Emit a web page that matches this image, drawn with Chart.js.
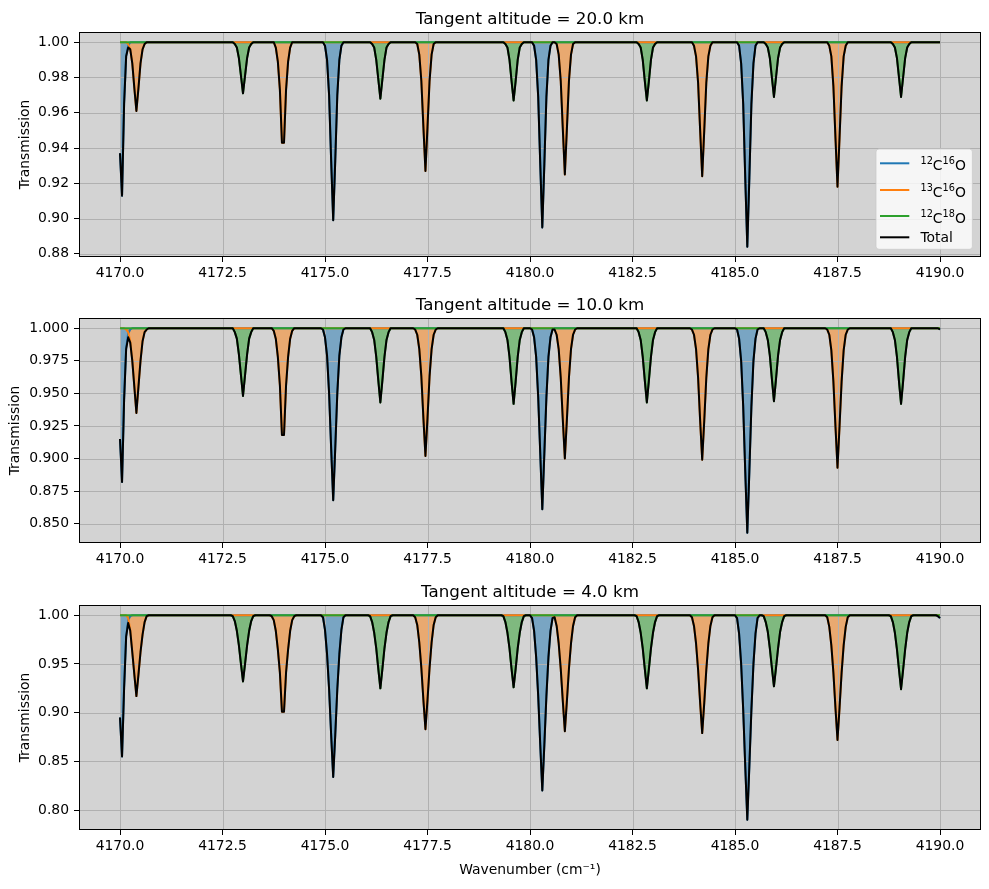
<!DOCTYPE html>
<html>
<head>
<meta charset="utf-8">
<script src="https://cdn.jsdelivr.net/npm/chart.js@4.4.0/dist/chart.umd.min.js"></script>
<style>
  html, body { margin: 0; padding: 0; background: #ffffff; }
  #fig { position: relative; width: 989px; height: 889px; }
  #fig canvas { position: absolute; left: 0; }
</style>
</head>
<body>
<div id="fig">
  <canvas id="panel-20km" width="989" height="287" style="top:0px"></canvas>
  <canvas id="panel-10km" width="989" height="287" style="top:287px"></canvas>
  <canvas id="panel-4km" width="989" height="315" style="top:574px"></canvas>
</div>
<script>
// spectra are sampled every 0.05 cm-1; each record is [first wavenumber, transmissions]
var WN_STEP = 0.05;
var WN_START = 4170.0;
var WN_END = 4190.0;

var ALTITUDES = [20.0, 10.0, 4.0];
var LEGEND_LABELS = ['^{12}C^{16}O', '^{13}C^{16}O', '^{12}C^{18}O', 'Total'];

var X_TICKS = [4170.0, 4172.5, 4175.0, 4177.5, 4180.0, 4182.5, 4185.0, 4187.5, 4190.0];
var X_LABELS = ['4170.0', '4172.5', '4175.0', '4177.5', '4180.0', '4182.5', '4185.0', '4187.5', '4190.0'];

var Y_TICKS_20KM = [0.88, 0.90, 0.92, 0.94, 0.96, 0.98, 1.00];
var Y_LABELS_20KM = ['0.88', '0.90', '0.92', '0.94', '0.96', '0.98', '1.00'];
var Y_TICKS_10KM = [0.850, 0.875, 0.900, 0.925, 0.950, 0.975, 1.000];
var Y_LABELS_10KM = ['0.850', '0.875', '0.900', '0.925', '0.950', '0.975', '1.000'];
var Y_TICKS_4KM = [0.80, 0.85, 0.90, 0.95, 1.00];
var Y_LABELS_4KM = ['0.80', '0.85', '0.90', '0.95', '1.00'];

// ---- 20 km ----
var c12o16_20km = [
  [4170.00, [0.937, 0.913, 0.965, 0.992, 0.998, 1.000]],
  [4174.95, [1.000, 0.998, 0.990, 0.970, 0.933, 0.899, 0.933, 0.970, 0.990, 0.998, 1.000]],
  [4180.05, [1.000, 0.998, 0.990, 0.969, 0.931, 0.895, 0.931, 0.969, 0.990, 0.998, 1.000]],
  [4185.05, [1.000, 0.998, 0.988, 0.965, 0.923, 0.884, 0.923, 0.965, 0.988, 0.998, 1.000]]
];
var c13o16_20km = [
  [4170.15, [1.000, 0.999, 0.996, 0.988, 0.974, 0.961, 0.974, 0.988, 0.996, 0.999, 1.000]],
  [4173.70, [1.000, 1.000, 0.997, 0.989, 0.973, 0.943, 0.943, 0.973, 0.989, 0.997, 1.000, 1.000]],
  [4177.20, [1.000, 0.999, 0.993, 0.978, 0.952, 0.927, 0.952, 0.978, 0.993, 0.999, 1.000]],
  [4180.60, [1.000, 0.999, 0.993, 0.978, 0.951, 0.925, 0.951, 0.978, 0.993, 0.999, 1.000]],
  [4183.95, [1.000, 0.998, 0.992, 0.977, 0.950, 0.924, 0.950, 0.977, 0.992, 0.998, 1.000]],
  [4187.25, [1.000, 0.998, 0.992, 0.975, 0.946, 0.918, 0.946, 0.975, 0.992, 0.998, 1.000]]
];
var c12o18_20km = [
  [4172.75, [1.000, 0.999, 0.997, 0.991, 0.981, 0.971, 0.981, 0.991, 0.997, 0.999, 1.000]],
  [4176.10, [1.000, 0.999, 0.997, 0.990, 0.979, 0.968, 0.979, 0.990, 0.997, 0.999, 1.000]],
  [4179.35, [1.000, 0.999, 0.997, 0.990, 0.978, 0.967, 0.978, 0.990, 0.997, 0.999, 1.000]],
  [4182.60, [1.000, 0.999, 0.997, 0.990, 0.978, 0.967, 0.978, 0.990, 0.997, 0.999, 1.000]],
  [4185.70, [1.000, 0.999, 0.997, 0.991, 0.980, 0.969, 0.980, 0.991, 0.997, 0.999, 1.000]],
  [4188.80, [1.000, 0.999, 0.997, 0.991, 0.980, 0.969, 0.980, 0.991, 0.997, 0.999, 1.000]]
];

// ---- 10 km ----
var c12o16_10km = [
  [4170.00, [0.915, 0.882, 0.945, 0.985, 0.996, 0.999, 1.000]],
  [4174.90, [1.000, 0.999, 0.993, 0.979, 0.950, 0.908, 0.868, 0.908, 0.950, 0.979, 0.993, 0.999, 1.000]],
  [4180.00, [1.000, 0.999, 0.993, 0.978, 0.947, 0.904, 0.861, 0.904, 0.947, 0.978, 0.993, 0.999, 1.000]],
  [4185.00, [1.000, 0.999, 0.992, 0.975, 0.940, 0.890, 0.843, 0.890, 0.940, 0.975, 0.992, 0.999, 1.000]],
  [4189.90, [1.000, 1.000, 0.999]]
];
var c13o16_10km = [
  [4170.10, [1.000, 0.999, 0.997, 0.990, 0.975, 0.955, 0.935, 0.955, 0.975, 0.990, 0.997, 0.999, 1.000]],
  [4173.65, [1.000, 1.000, 0.998, 0.992, 0.978, 0.956, 0.918, 0.918, 0.956, 0.978, 0.992, 0.998, 1.000, 1.000]],
  [4177.15, [1.000, 0.999, 0.995, 0.984, 0.963, 0.931, 0.902, 0.931, 0.963, 0.984, 0.995, 0.999, 1.000]],
  [4180.55, [1.000, 0.999, 0.995, 0.984, 0.962, 0.930, 0.900, 0.930, 0.962, 0.984, 0.995, 0.999, 1.000]],
  [4183.90, [1.000, 0.999, 0.995, 0.984, 0.962, 0.929, 0.899, 0.929, 0.962, 0.984, 0.995, 0.999, 1.000]],
  [4187.20, [1.000, 0.999, 0.995, 0.983, 0.959, 0.925, 0.893, 0.925, 0.959, 0.983, 0.995, 0.999, 1.000]]
];
var c12o18_10km = [
  [4172.70, [1.000, 1.000, 0.997, 0.992, 0.980, 0.964, 0.948, 0.964, 0.980, 0.992, 0.997, 1.000, 1.000]],
  [4176.05, [1.000, 1.000, 0.997, 0.991, 0.978, 0.960, 0.943, 0.960, 0.978, 0.991, 0.997, 1.000, 1.000]],
  [4179.30, [1.000, 1.000, 0.997, 0.991, 0.978, 0.959, 0.942, 0.959, 0.978, 0.991, 0.997, 1.000, 1.000]],
  [4182.55, [1.000, 1.000, 0.997, 0.991, 0.978, 0.960, 0.943, 0.960, 0.978, 0.991, 0.997, 1.000, 1.000]],
  [4185.65, [1.000, 1.000, 0.997, 0.991, 0.979, 0.961, 0.944, 0.961, 0.979, 0.991, 0.997, 1.000, 1.000]],
  [4188.75, [1.000, 1.000, 0.997, 0.991, 0.978, 0.959, 0.942, 0.959, 0.978, 0.991, 0.997, 1.000, 1.000]]
];

// ---- 4 km ----
var c12o16_4km = [
  [4170.00, [0.895, 0.855, 0.925, 0.978, 0.995, 0.999, 1.000]],
  [4174.90, [1.000, 0.998, 0.985, 0.960, 0.924, 0.877, 0.834, 0.877, 0.924, 0.960, 0.985, 0.998, 1.000]],
  [4180.00, [1.000, 0.997, 0.984, 0.957, 0.917, 0.867, 0.820, 0.867, 0.917, 0.957, 0.984, 0.997, 1.000]],
  [4185.00, [1.000, 0.997, 0.981, 0.950, 0.903, 0.845, 0.790, 0.845, 0.903, 0.950, 0.981, 0.997, 1.000]],
  [4189.85, [1.000, 1.000, 0.999, 0.997]]
];
var c13o16_4km = [
  [4170.10, [1.000, 1.000, 0.997, 0.985, 0.962, 0.939, 0.917, 0.939, 0.962, 0.980, 0.993, 0.999, 1.000]],
  [4173.65, [1.000, 0.999, 0.995, 0.984, 0.965, 0.941, 0.901, 0.901, 0.941, 0.965, 0.984, 0.995, 0.999, 1.000]],
  [4177.15, [1.000, 0.998, 0.990, 0.972, 0.946, 0.913, 0.883, 0.913, 0.946, 0.972, 0.990, 0.998, 1.000]],
  [4180.55, [1.000, 0.998, 0.989, 0.971, 0.945, 0.912, 0.881, 0.912, 0.945, 0.971, 0.989, 0.998, 1.000]],
  [4183.90, [1.000, 0.998, 0.989, 0.971, 0.944, 0.910, 0.879, 0.910, 0.944, 0.971, 0.989, 0.998, 1.000]],
  [4187.20, [1.000, 0.998, 0.988, 0.969, 0.941, 0.905, 0.872, 0.905, 0.941, 0.969, 0.988, 0.998, 1.000]]
];
var c12o18_4km = [
  [4172.70, [1.000, 0.999, 0.994, 0.984, 0.969, 0.950, 0.932, 0.950, 0.969, 0.984, 0.994, 0.999, 1.000]],
  [4176.05, [1.000, 0.999, 0.993, 0.982, 0.966, 0.945, 0.925, 0.945, 0.966, 0.982, 0.993, 0.999, 1.000]],
  [4179.30, [1.000, 0.999, 0.993, 0.982, 0.966, 0.945, 0.926, 0.945, 0.966, 0.982, 0.993, 0.999, 1.000]],
  [4182.55, [1.000, 0.999, 0.993, 0.982, 0.966, 0.945, 0.925, 0.945, 0.966, 0.982, 0.993, 0.999, 1.000]],
  [4185.65, [1.000, 0.999, 0.993, 0.983, 0.966, 0.946, 0.927, 0.946, 0.966, 0.983, 0.993, 0.999, 1.000]],
  [4188.75, [1.000, 0.999, 0.993, 0.982, 0.965, 0.944, 0.924, 0.944, 0.965, 0.982, 0.993, 0.999, 1.000]]
];

var COLORS = ['#1f77b4', '#ff7f0e', '#2ca02c'];
var FILLS = ['rgba(31, 119, 180, 0.5)', 'rgba(255, 127, 14, 0.5)', 'rgba(44, 160, 44, 0.5)'];

var PANELS = [
  { canvas: 'panel-20km', altitude: ALTITUDES[0], series: [c12o16_20km, c13o16_20km, c12o18_20km],
    yTicks: Y_TICKS_20KM, yLabels: Y_LABELS_20KM, padTop: 32, xHeight: 30, yTitlePad: 16.7, legend: true, xTitle: false },
  { canvas: 'panel-10km', altitude: ALTITUDES[1], series: [c12o16_10km, c13o16_10km, c12o18_10km],
    yTicks: Y_TICKS_10KM, yLabels: Y_LABELS_10KM, padTop: 31, xHeight: 31, yTitlePad: 7, legend: false, xTitle: false },
  { canvas: 'panel-4km', altitude: ALTITUDES[2], series: [c12o16_4km, c13o16_4km, c12o18_4km],
    yTicks: Y_TICKS_4KM, yLabels: Y_LABELS_4KM, padTop: 31, xHeight: 59, yTitlePad: 16.7, legend: false, xTitle: true }
];

Chart.defaults.font.family = '"DejaVu Sans", sans-serif';
Chart.defaults.color = '#000000';

function key(x) {
  return Math.round(x * 100) / 100;
}

function toPoints(records) {
  var pts = [];
  records.forEach(function (rec) {
    rec[1].forEach(function (t, i) {
      pts.push({ x: key(rec[0] + i * WN_STEP), y: t });
    });
  });
  if (pts[0].x > WN_START) pts.unshift({ x: WN_START, y: 1.0 });
  if (pts[pts.length - 1].x < WN_END) pts.push({ x: WN_END, y: 1.0 });
  return pts;
}

// total transmission = product of the isotopologues on the shared sample grid
function totalOf(list) {
  var prod = {};
  list.forEach(function (pts) {
    pts.forEach(function (p) {
      prod[p.x] = (prod[p.x] === undefined ? 1 : prod[p.x]) * p.y;
    });
  });
  return Object.keys(prod).map(Number).sort(function (a, b) { return a - b; })
    .map(function (x) { return { x: x, y: prod[x] }; });
}

function drawRich(ctx, text, x, y, size) {
  // "^{12}C^{16}O" -> superscripts in a smaller font
  var parts = text.split(/(\^\{[^}]*\})/).filter(function (s) { return s.length; });
  parts.forEach(function (s) {
    var sup = s.charAt(0) === '^';
    var str = sup ? s.slice(2, -1) : s;
    ctx.font = (sup ? size * 0.7 : size) + 'px "DejaVu Sans"';
    ctx.fillText(str, x, sup ? y - 6.2 : y);
    x += ctx.measureText(str).width;
  });
}

function drawLegend(chart) {
  var ctx = chart.ctx, a = chart.chartArea;
  var w = 96.4, h = 100.3;
  var x0 = a.right - 8.6 - w, y0 = a.bottom - 7.7 - h, r = 3;
  ctx.save();
  ctx.beginPath();
  ctx.moveTo(x0 + r, y0);
  ctx.arcTo(x0 + w, y0, x0 + w, y0 + h, r);
  ctx.arcTo(x0 + w, y0 + h, x0, y0 + h, r);
  ctx.arcTo(x0, y0 + h, x0, y0, r);
  ctx.arcTo(x0, y0, x0 + w, y0, r);
  ctx.closePath();
  ctx.fillStyle = 'rgba(255, 255, 255, 0.8)';
  ctx.fill();
  ctx.strokeStyle = 'rgba(204, 204, 204, 0.8)';
  ctx.lineWidth = 1;
  ctx.stroke();

  var rows = [14.3, 41, 67, 88.3];
  var colors = COLORS.concat(['#000000']);
  ctx.fillStyle = '#000000';
  ctx.textAlign = 'left';
  ctx.textBaseline = 'alphabetic';
  LEGEND_LABELS.forEach(function (lab, i) {
    var y = y0 + rows[i];
    ctx.strokeStyle = colors[i];
    ctx.lineWidth = 2;
    ctx.beginPath();
    ctx.moveTo(x0 + 4, y);
    ctx.lineTo(x0 + 33.3, y);
    ctx.stroke();
    var sup = lab.indexOf('^') >= 0;
    drawRich(ctx, lab, x0 + 44.5, y + (sup ? 6.7 : 4.6), 13.9);
  });
  ctx.restore();
}

var mplLook = {
  id: 'mplLook',
  beforeDraw: function (chart) {
    var a = chart.chartArea, ctx = chart.ctx;
    ctx.save();
    ctx.fillStyle = '#ffffff';
    ctx.fillRect(0, 0, chart.width, chart.height);
    ctx.fillStyle = '#d3d3d3';
    ctx.fillRect(a.left, a.top, a.right - a.left, a.bottom - a.top);
    ctx.restore();
  },
  // grid goes over the fills but under the lines, as in matplotlib
  beforeDatasetsDraw: function (chart) {
    var a = chart.chartArea, ctx = chart.ctx;
    var xs = chart.scales.x, ys = chart.scales.y;
    ctx.save();
    ctx.strokeStyle = '#b0b0b0';
    ctx.lineWidth = 1;
    ctx.beginPath();
    xs.ticks.forEach(function (t) {
      var px = Math.round(xs.getPixelForValue(t.value)) + 0.5;
      ctx.moveTo(px, a.top);
      ctx.lineTo(px, a.bottom);
    });
    ys.ticks.forEach(function (t) {
      var py = Math.round(ys.getPixelForValue(t.value)) + 0.5;
      ctx.moveTo(a.left, py);
      ctx.lineTo(a.right, py);
    });
    ctx.stroke();
    ctx.restore();
  },
  afterDatasetsDraw: function (chart) {
    var a = chart.chartArea, ctx = chart.ctx;
    ctx.save();
    ctx.strokeStyle = '#000000';
    ctx.lineWidth = 1;
    ctx.strokeRect(a.left + 0.5, a.top + 0.5, a.right - a.left - 1, a.bottom - a.top - 1);
    ctx.restore();
  },
  afterDraw: function (chart) {
    var a = chart.chartArea, ctx = chart.ctx;
    var opts = chart.options.plugins.mplLook;
    ctx.save();
    ctx.fillStyle = '#000000';
    ctx.font = '16.7px "DejaVu Sans"';
    ctx.textAlign = 'center';
    ctx.textBaseline = 'alphabetic';
    ctx.fillText(opts.title, (a.left + a.right) / 2, a.top - 8.5);
    ctx.restore();
    if (opts.legend) drawLegend(chart);
  }
};

function drawPanel(p) {
  var iso = p.series.map(toPoints);
  var total = totalOf(iso);
  // matplotlib style 5% margins
  var yMin = Math.min.apply(null, total.map(function (d) { return d.y; }));
  var yMax = 1.0;
  var ySpan = yMax - yMin;
  var xSpan = WN_END - WN_START;

  var datasets = [{
    label: LEGEND_LABELS[3], data: total, borderColor: '#000000', borderWidth: 2,
    fill: false, order: 0
  }];
  for (var i = 2; i >= 0; i--) {
    datasets.push({
      label: LEGEND_LABELS[i], data: iso[i], borderColor: COLORS[i], backgroundColor: FILLS[i],
      borderWidth: 2, fill: { value: 1.0 }, order: 3 - i
    });
  }

  new Chart(document.getElementById(p.canvas), {
    type: 'line',
    data: { datasets: datasets },
    options: {
      responsive: false,
      devicePixelRatio: 1,
      animation: false,
      events: [],
      layout: { autoPadding: false, padding: { top: p.padTop, left: 0, right: 8, bottom: 0 } },
      elements: {
        point: { radius: 0 },
        line: { tension: 0, borderJoinStyle: 'round' }
      },
      plugins: {
        legend: { display: false },
        tooltip: { enabled: false },
        title: { display: false },
        filler: { drawTime: 'beforeDatasetsDraw' },
        mplLook: { title: 'Tangent altitude = ' + p.altitude.toFixed(1) + ' km', legend: p.legend }
      },
      scales: {
        x: {
          type: 'linear',
          min: WN_START - 0.05 * xSpan,
          max: WN_END + 0.05 * xSpan,
          afterBuildTicks: function (s) { s.ticks = X_TICKS.map(function (v) { return { value: v }; }); },
          afterFit: function (s) { s.height = p.xHeight; },
          ticks: {
            autoSkip: false, maxRotation: 0, padding: 3,
            font: { size: 13.9 },
            callback: function (v, i) { return X_LABELS[i]; }
          },
          grid: { drawOnChartArea: false, tickLength: 5, tickColor: '#000000', tickWidth: 1 },
          border: { display: false },
          title: {
            display: p.xTitle, text: 'Wavenumber (cm\u207B\u00B9)',
            font: { size: 13.9 }, padding: { top: 0, bottom: 10.7 }
          }
        },
        y: {
          type: 'linear',
          min: yMin - 0.05 * ySpan,
          max: yMax + 0.05 * ySpan,
          afterBuildTicks: function (s) { s.ticks = p.yTicks.map(function (v) { return { value: v }; }); },
          afterFit: function (s) { s.width = 79; },
          ticks: {
            padding: 5,
            font: { size: 13.9 },
            callback: function (v, i) { return p.yLabels[i]; }
          },
          grid: { drawOnChartArea: false, tickLength: 5, tickColor: '#000000', tickWidth: 1 },
          border: { display: false },
          title: {
            display: true, text: 'Transmission',
            font: { size: 13.9 }, padding: { top: p.yTitlePad, bottom: 0 }
          }
        }
      }
    },
    plugins: [mplLook]
  });
}

PANELS.forEach(drawPanel);
</script>
</body>
</html>
